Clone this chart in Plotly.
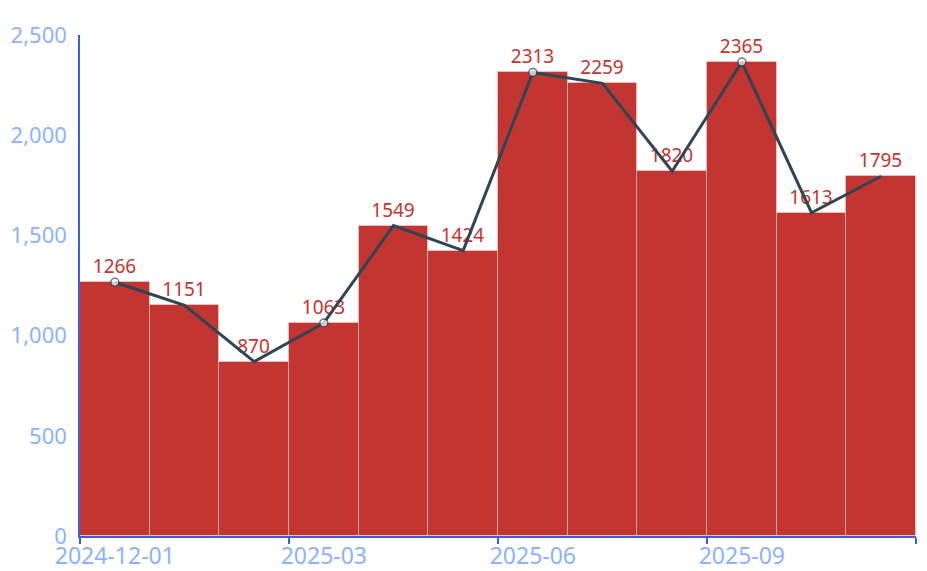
import plotly.graph_objects as go

months = ["2024-12-01", "2025-01", "2025-02", "2025-03", "2025-04", "2025-05",
          "2025-06", "2025-07", "2025-08", "2025-09", "2025-10", "2025-11"]
values = [1266, 1151, 870, 1063, 1549, 1424, 2313, 2259, 1820, 2365, 1613, 1795]
y_ticks = [0, 500, 1000, 1500, 2000, 2500]

idx = list(range(len(months)))
label_idx = [i for i in idx if i % 3 == 0]
boundaries = [i - 0.5 for i in label_idx] + [len(months) - 0.5]

axis_blue = "#3a5ee8"
label_blue = "#8cb2ff"
red = "#c23531"
dark = "#2f4554"

fig = go.Figure()
fig.add_trace(go.Bar(
    x=idx, y=values, width=1,
    marker=dict(color=red, line=dict(color="rgba(255,255,255,0.35)", width=1)),
    text=[str(v) for v in values], textposition="outside",
    textfont=dict(color=red, size=19, family="Noto Sans"),
    cliponaxis=False, showlegend=False,
))
fig.add_trace(go.Scatter(
    x=idx, y=values, mode="lines+markers",
    line=dict(color=dark, width=3),
    marker=dict(size=[8 if i % 3 == 0 else 0 for i in idx], color="white",
                line=dict(color=dark, width=1.5)),
    showlegend=False, cliponaxis=False,
))
# invisible trace for label axis
fig.add_trace(go.Scatter(x=[idx[0], idx[-1]], y=[0, 0], xaxis="x2", mode="markers",
                         marker=dict(opacity=0), showlegend=False, hoverinfo="skip"))

xr = [-0.5, len(months) - 0.5]
fig.update_layout(
    width=919, height=563,
    margin=dict(l=72, r=11, t=27, b=35),
    plot_bgcolor="white", paper_bgcolor="white",
    bargap=0,
    font=dict(family="Noto Sans"),
    xaxis=dict(range=xr, tickmode="array", tickvals=boundaries,
               ticktext=["" for _ in boundaries], automargin=False,
               showline=True, linecolor=axis_blue, linewidth=1.5,
               ticks="outside", ticklen=6, tickcolor=axis_blue, tickwidth=1.5,
               showgrid=False, zeroline=False),
    xaxis2=dict(range=xr, overlaying="x", side="bottom", tickmode="array",
                tickvals=label_idx, ticktext=[months[i] for i in label_idx],
                tickfont=dict(color=label_blue, size=23), ticks="", showline=False,
                showgrid=False, zeroline=False, ticklabelstandoff=4, automargin=False),
    yaxis=dict(range=[0, 2500], tickmode="array", tickvals=y_ticks,
               tickformat=",", tickfont=dict(color=label_blue, size=22),
               showline=True, linecolor=axis_blue, linewidth=1.5, automargin=False,
               showgrid=False, zeroline=False, ticks="", ticklabelstandoff=7),
)
fig.write_html("out.html")
